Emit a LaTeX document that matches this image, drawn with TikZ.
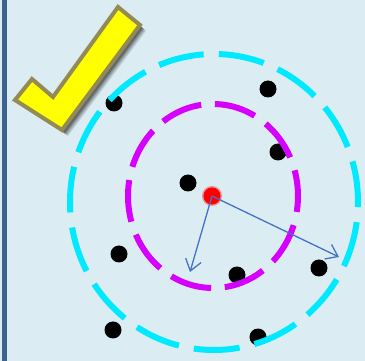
\documentclass[tikz,border=0pt]{standalone}
\usepackage{tikz}
\usetikzlibrary{arrows.meta}
\definecolor{PanelBg}{RGB}{219,236,243}
\definecolor{PanelEdge}{RGB}{60,98,145}
\definecolor{RingInner}{RGB}{214,0,255}
\definecolor{RingOuter}{RGB}{0,234,255}
\definecolor{PointerBlue}{RGB}{68,114,196}
\definecolor{TickFill}{RGB}{255,255,0}
\definecolor{TickEdge}{RGB}{148,138,84}

\begin{document}
\begin{tikzpicture}[
    x=1pt,y=-1pt,
    pt/.style={circle, fill=black, minimum size=17pt, inner sep=0pt},
    ctr/.style={circle, fill=red, minimum size=17pt, inner sep=0pt},
    ring/.style={line width=6pt},
    ptr/.style={draw=PointerBlue, line width=1.3pt, -{Straight Barb[length=11pt,width=16pt]}}
  ]
    \useasboundingbox (0,0) rectangle (365,361);
    \fill[PanelBg] (0,0) rectangle (365,361);
    \fill[PanelEdge] (1.5,0) rectangle (6.5,361);
    % check mark with its shadow
    \foreach \s/\o in {6/0.12,5/0.15,4/0.2,3/0.25} {
      \fill[black, opacity=\o, shift={(\s,\s)}] (15,100) -- (32,79) -- (53,97) -- (118,7) -- (140,25) -- (62,130) -- cycle;
    }
    \draw[draw=TickEdge, fill=TickFill, line width=4pt] (15,100) -- (32,79) -- (53,97) -- (118,7) -- (140,25) -- (62,130) -- cycle;
    % points
    \foreach \n/\x/\y in {p1/114/103,p2/268/89,p3/278/152,p4/188/183,p5/119/254,p6/113/330,p7/237/275,p8/319/268,p9/258/337} {
      \node[pt] (\n) at (\x,\y) {};
    }
    % rings
    \draw[ring, RingOuter, dash pattern=on 46pt off 15.16pt, dash phase=41pt] (214,202) ellipse [x radius=144, y radius=148];
    \draw[ring, RingInner, dash pattern=on 42pt off 13.63pt, dash phase=26pt] (213,196) ellipse [x radius=85, y radius=92];
    % centre and radii
    \fill[red, opacity=0.4] (212,196) circle (10);
    \node[ctr] (c) at (212,196) {};
    \coordinate (r1) at (190,272);
    \coordinate (r2) at (339,257);
    \draw[ptr] (c.center) -- (r1);
    \draw[ptr] (c.center) -- (r2);
\end{tikzpicture}
\end{document}
